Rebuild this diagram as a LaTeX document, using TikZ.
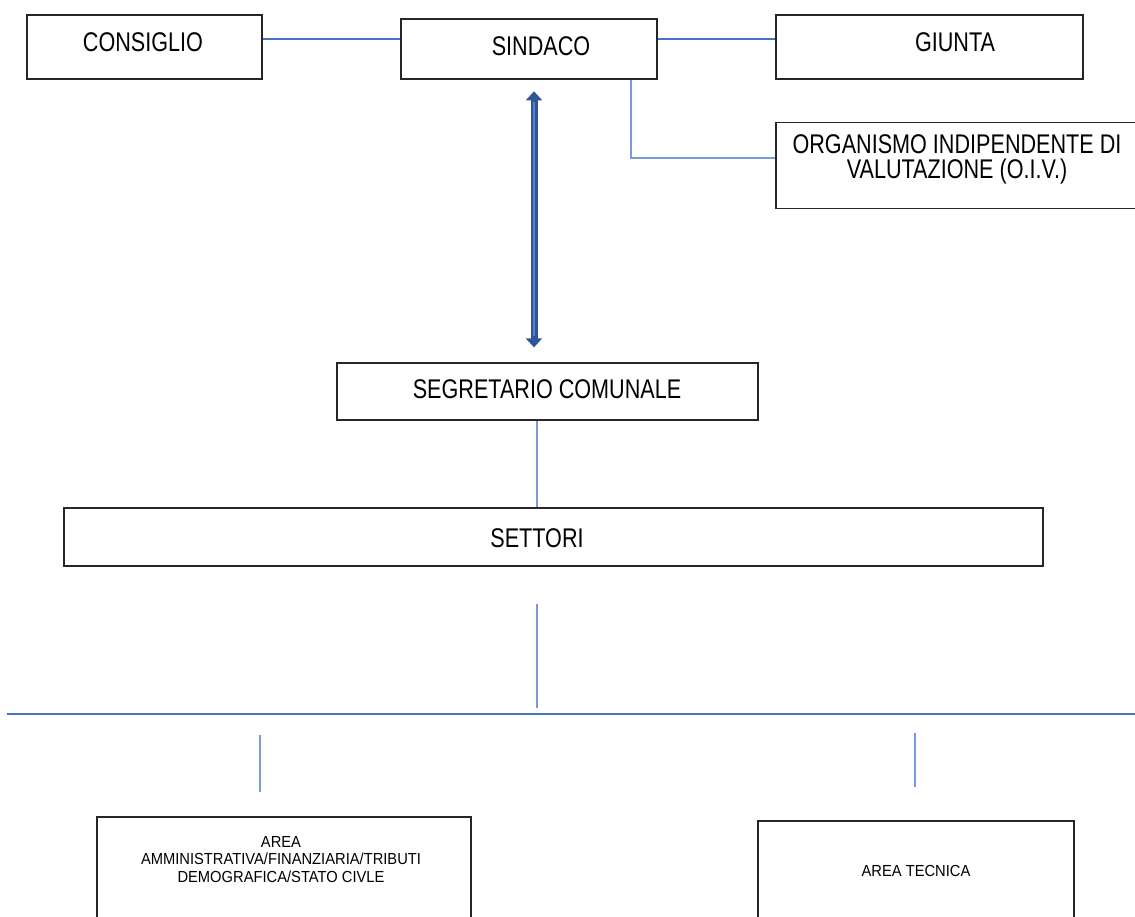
\documentclass[tikz,border=0pt]{standalone}
\usepackage{fontspec}
\setmainfont{Liberation Sans}
\newfontfamily\bigf{Liberation Sans}[FakeStretch=0.8]
\newfontfamily\smallf{Liberation Sans}[FakeStretch=0.92]
\usetikzlibrary{arrows.meta}
\definecolor{connblue}{RGB}{68,114,196}
\definecolor{connlight}{RGB}{122,156,218}
\definecolor{arrdark}{RGB}{47,85,151}
\definecolor{arrlight}{RGB}{86,128,205}
\begin{document}
\begin{tikzpicture}[x=1pt,y=-1pt,
  box/.style={draw=black!85, line width=1.3pt, inner sep=0pt, fill=white},
  bigtxt/.style={font=\bigf\fontsize{27pt}{30pt}\selectfont, inner sep=0pt, anchor=base},
  smalltxt/.style={font=\smallf\fontsize{16pt}{18pt}\selectfont, inner sep=0pt, anchor=base},
  conn/.style={draw=connblue, line width=1.4pt},
  connv/.style={draw=connlight, line width=1.8pt}]
\useasboundingbox (0,0) rectangle (1135,917);
\clip (0,0) rectangle (1135,917);
\fill[white] (0,0) rectangle (1135,917);

% boxes
\node[box, minimum width=235pt, minimum height=64pt] (consiglio) at (144.5,47) {};
\node[box, minimum width=256pt, minimum height=60pt] (sindaco) at (529,49) {};
\node[box, minimum width=307pt, minimum height=64pt] (giunta) at (929.5,47) {};
\node[box, minimum width=374pt, minimum height=86pt] (oiv) at (963,165.5) {};
\node[box, minimum width=421pt, minimum height=57pt] (segretario) at (547.5,391.5) {};
\node[box, minimum width=979pt, minimum height=58pt] (settori) at (553.5,537) {};
\node[box, minimum width=374pt, minimum height=123pt] (area1) at (284,878.5) {};
\node[box, minimum width=316pt, minimum height=119pt] (area2) at (916,880.5) {};

% texts
\node[bigtxt] (tconsiglio) at (143,51.7) {CONSIGLIO};
\node[bigtxt] (tsindaco) at (541,55.7) {SINDACO};
\node[bigtxt] (tgiunta) at (955,51.7) {GIUNTA};
\node[bigtxt] (toiv1) at (957,153.7) {ORGANISMO INDIPENDENTE DI};
\node[bigtxt] (toiv2) at (957,178.7) {VALUTAZIONE (O.I.V.)};
\node[bigtxt] (tsegretario) at (547,398) {SEGRETARIO COMUNALE};
\node[bigtxt] (tsettori) at (537,547) {SETTORI};
\node[smalltxt] (tarea1a) at (281,847) {AREA};
\node[smalltxt] (tarea1b) at (281,864.5) {AMMINISTRATIVA/FINANZIARIA/TRIBUTI};
\node[smalltxt] (tarea1c) at (281,882) {DEMOGRAFICA/STATO CIVLE};
\node[smalltxt] (tarea2) at (916,876) {AREA TECNICA};

% bus coordinates
\coordinate (busL) at (7,714);
\coordinate (busR) at (1135,714);
\coordinate (busM) at (537,714);
\coordinate (bus1) at (260,714);
\coordinate (bus2) at (915,714);

% connectors
\draw[conn] ([yshift=8pt]consiglio.east) -- ([yshift=10pt]sindaco.west);
\draw[conn] ([yshift=10pt]sindaco.east) -- ([yshift=8pt]giunta.west);
\draw[connv] ([xshift=102pt]sindaco.south) |- ([yshift=7.5pt]oiv.west);
\draw[connv] ([xshift=-10.5pt]segretario.south) -- ([xshift=-16.5pt]settori.north);
\draw[connv, shorten <=37pt, shorten >=6pt] ([xshift=-16.5pt]settori.south) -- (busM);
\draw[conn] (busL) -- (busR);
\draw[connv, shorten <=21pt, shorten >=24pt] (bus1) -- ([xshift=-24pt]area1.north);
\draw[connv, shorten <=19pt, shorten >=33pt] (bus2) -- ([xshift=-1pt]area2.north);

% double arrow
\draw[draw=arrdark, line width=7pt, shorten <=11.7pt, shorten >=15pt,
  {Triangle[width=16pt,length=9pt]}-{Triangle[width=16pt,length=9pt]}]
  ([xshift=5pt]sindaco.south) -- ([xshift=-13.5pt]segretario.north);
\draw[draw=arrlight, line width=2.2pt, shorten <=22pt, shorten >=26pt]
  ([xshift=5pt]sindaco.south) -- ([xshift=-13.5pt]segretario.north);
\end{tikzpicture}
\end{document}
